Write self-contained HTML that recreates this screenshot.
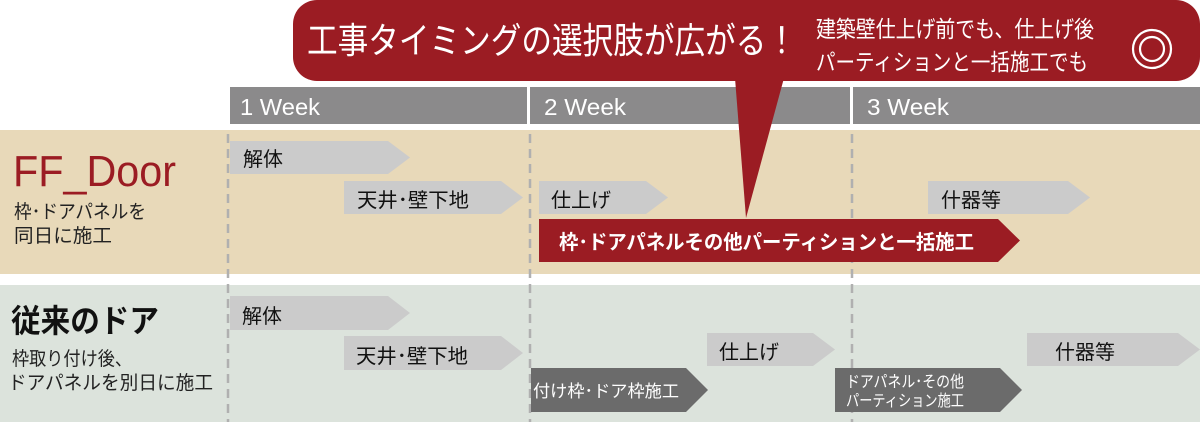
<!DOCTYPE html>
<html><head><meta charset="utf-8"><style>
html,body{margin:0;padding:0;background:#fff;width:1200px;height:422px;overflow:hidden}
svg{display:block}
text{font-family:"Liberation Sans","Noto Sans CJK JP",sans-serif}
</style></head><body>
<svg width="1200" height="422" viewBox="0 0 1200 422">
<rect x="0" y="130" width="1200" height="144" fill="#e8d9b9"/>
<rect x="0" y="285" width="1200" height="137" fill="#dce3dc"/>
<rect x="230" y="87" width="297" height="37" fill="#8b8a8b"/>
<rect x="530" y="87" width="320" height="37" fill="#8b8a8b"/>
<rect x="853" y="87" width="347" height="37" fill="#8b8a8b"/>
<text x="240" y="115" font-size="23" fill="#fff" textLength="80" lengthAdjust="spacingAndGlyphs">1 Week</text>
<text x="544" y="115" font-size="23" fill="#fff" textLength="82" lengthAdjust="spacingAndGlyphs">2 Week</text>
<text x="867" y="115" font-size="23" fill="#fff" textLength="82" lengthAdjust="spacingAndGlyphs">3 Week</text>
<g stroke="#b0b0b0" stroke-width="2.5" stroke-dasharray="9,6">
<line x1="228" y1="134" x2="228" y2="422"/>
<line x1="530" y1="134" x2="530" y2="422"/>
<line x1="852" y1="134" x2="852" y2="422"/>
</g>
<text x="13" y="186" font-size="44" fill="#9b1c23" textLength="163" lengthAdjust="spacingAndGlyphs">FF_Door</text>
<text x="14" y="218" font-size="19" fill="#222" textLength="132" lengthAdjust="spacingAndGlyphs">枠･ドアパネルを</text>
<text x="14" y="242" font-size="19" fill="#222" textLength="98" lengthAdjust="spacingAndGlyphs">同日に施工</text>
<text x="11" y="332" font-size="32" font-weight="bold" fill="#111" textLength="148" lengthAdjust="spacingAndGlyphs">従来のドア</text>
<text x="12" y="365" font-size="19" fill="#222" textLength="120" lengthAdjust="spacingAndGlyphs">枠取り付け後、</text>
<text x="8" y="389" font-size="19" fill="#222" textLength="205" lengthAdjust="spacingAndGlyphs">ドアパネルを別日に施工</text>
<g fill="#cbcbcb">
<polygon points="230,141 388,141 410,157.5 388,174 230,174"/>
<polygon points="344,181 501,181 523,197.5 501,214 344,214"/>
<polygon points="539,181 646,181 668,197.5 646,214 539,214"/>
<polygon points="928,181 1068,181 1090,197.5 1068,214 928,214"/>
</g>
<g font-size="20" fill="#111">
<text x="243" y="166">解体</text>
<text x="357" y="207" textLength="112" lengthAdjust="spacingAndGlyphs">天井･壁下地</text>
<text x="551" y="207">仕上げ</text>
<text x="941" y="207">什器等</text>
</g>
<polygon points="539,219 998,219 1020,240.5 998,262 539,262" fill="#9b1c23"/>
<text x="559" y="249" font-size="20" font-weight="bold" fill="#fff" textLength="415" lengthAdjust="spacingAndGlyphs">枠･ドアパネルその他パーティションと一括施工</text>
<g fill="#cbcbcb">
<polygon points="230,296 388,296 410,313 388,330 230,330"/>
<polygon points="344,336 501,336 523,353 501,370 344,370"/>
<polygon points="707,333 813,333 835,349.5 813,366 707,366"/>
<polygon points="1027,333 1178,333 1200,349.5 1178,366 1027,366"/>
</g>
<g font-size="20" fill="#111">
<text x="242" y="323">解体</text>
<text x="356" y="363" textLength="112" lengthAdjust="spacingAndGlyphs">天井･壁下地</text>
<text x="719" y="359">仕上げ</text>
<text x="1055" y="359">什器等</text>
</g>
<g fill="#6b6b6b">
<polygon points="531,368 686,368 708,390 686,412 531,412"/>
<polygon points="835,368 1000,368 1022,390 1000,412 835,412"/>
</g>
<text x="533" y="397" font-size="17" fill="#fff" textLength="146" lengthAdjust="spacingAndGlyphs">付け枠･ドア枠施工</text>
<text x="846" y="387" font-size="16" fill="#fff" textLength="118" lengthAdjust="spacingAndGlyphs">ドアパネル･その他</text>
<text x="846" y="406" font-size="16" fill="#fff" textLength="118" lengthAdjust="spacingAndGlyphs">パーティション施工</text>
<rect x="293" y="0" width="907" height="81" rx="24" fill="#9b1c23"/>
<polygon points="735,78 784,78 746,218" fill="#9b1c23"/>
<text x="307" y="53" font-size="36" fill="#fff" textLength="490" lengthAdjust="spacingAndGlyphs">工事タイミングの選択肢が広がる！</text>
<text x="816" y="37" font-size="23" fill="#fff" textLength="278" lengthAdjust="spacingAndGlyphs">建築壁仕上げ前でも、仕上げ後</text>
<text x="816" y="70" font-size="23" fill="#fff" textLength="272" lengthAdjust="spacingAndGlyphs">パーティションと一括施工でも</text>
<circle cx="1152" cy="49" r="19" fill="none" stroke="#fff" stroke-width="2.2"/>
<circle cx="1152" cy="49" r="12" fill="none" stroke="#fff" stroke-width="2.2"/>
</svg>
</body></html>
